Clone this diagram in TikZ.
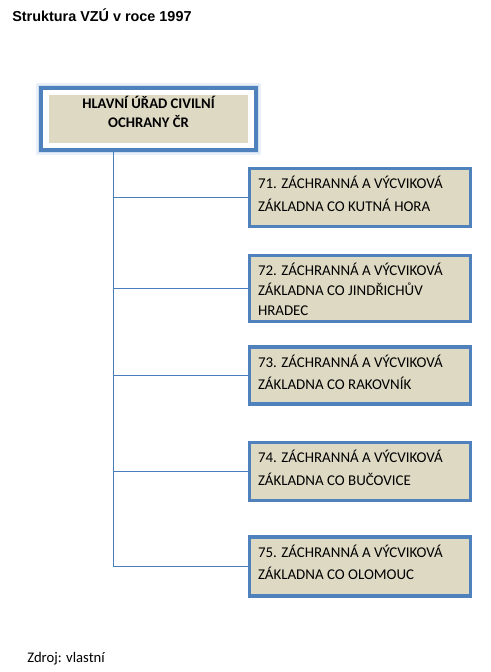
\documentclass[tikz,border=0pt]{standalone}
\usepackage{fontspec}
\setmainfont{Carlito}
\newfontfamily\titlefont{Liberation Sans}
\usetikzlibrary{fit,shadows,backgrounds}
\definecolor{frameblue}{HTML}{4F81BD}
\definecolor{linkblue}{HTML}{4A7EBB}
\definecolor{boxbeige}{HTML}{DDD9C3}
\definecolor{glowblue}{HTML}{B8CDE8}

\begin{document}
\begin{tikzpicture}[x=0.75pt,y=-0.75pt,
  link/.style={draw=linkblue,line width=0.75pt},
  hqtext/.style={fill=boxbeige,inner sep=0pt,minimum width=149.25pt,minimum height=36pt,
    font=\bfseries\fontsize{11}{14.3}\selectfont},
  hqframe/.style={draw=frameblue,line width=2.4pt,fill=white,inner xsep=5.8pt,inner ysep=5pt,
    preaction={draw=glowblue,line width=7pt,opacity=0.3},
    preaction={draw=glowblue,line width=4.5pt,opacity=0.5}},
  unitbox/.style={draw=frameblue,line width=2.3pt,fill=boxbeige,inner sep=0pt,
    minimum width=165.75pt,font=\fontsize{11.2}{17}\selectfont,
    drop shadow={shadow xshift=1.2pt,shadow yshift=-1.2pt,opacity=0.3}}]
\useasboundingbox (0,0) rectangle (491,672);
\def\boxw{153pt}
% title and source
\node[anchor=base west,inner sep=0pt,font=\titlefont\bfseries\fontsize{10.8}{12}\selectfont]
  (title) at (12,21) {Struktura VZÚ v roce 1997};
\node[anchor=base west,inner sep=0pt,font=\fontsize{11}{13}\selectfont]
  (source) at (27,662) {Zdroj: vlastní};
% head office with its glowing frame
\node[hqtext] (hq) at (148.5,119)
  {\parbox[c][36pt][t]{149.25pt}{\centering\rule{0pt}{9.75pt}HLAVNÍ ÚŘAD CIVILNÍ\\OCHRANY ČR}};
\begin{scope}[on background layer]
  \node[hqframe,fit=(hq)] (hqbox) {};
\end{scope}
\coordinate (trunk) at (113.5,0);
% rescue and training bases
\foreach \n/\y/\h/\s/\place in {71/197.5/43.5pt/17pt/{KUTNÁ HORA},
    72/288.5/49.5pt/15pt/{JINDŘICHŮV\\HRADEC},
    73/375.5/42.75pt/17pt/{RAKOVNÍK},
    74/471.5/43.5pt/17pt/{BUČOVICE},
    75/566.5/44.25pt/17pt/{OLOMOUC}}{
  \node[unitbox,minimum height=\h] (z\n) at (360,\y)
    {\parbox[c][\h][t]{\boxw}{\raggedright\baselineskip=\s\rule{0pt}{15.2pt}\n. ZÁCHRANNÁ A VÝCVIKOVÁ\\ZÁKLADNA CO \place\par}};
  \draw[link] (z\n.west -| trunk) -- (z\n.west);
}
\draw[link] (hqbox.south -| trunk) -- (z75.west -| trunk);
\end{tikzpicture}
\end{document}
